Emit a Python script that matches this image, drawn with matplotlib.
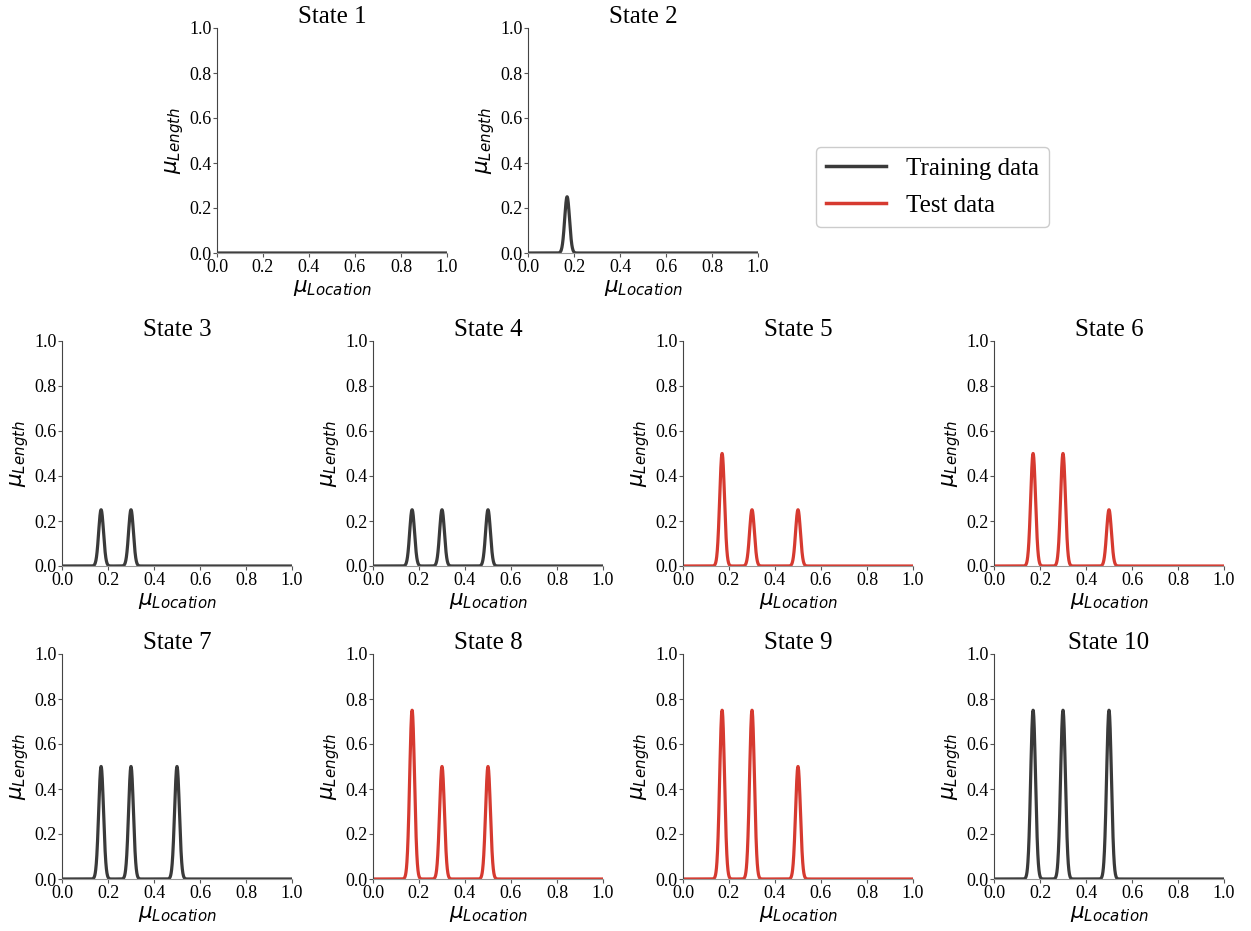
import matplotlib
matplotlib.use("Agg")
import matplotlib.pyplot as plt
import numpy as np

plt.rcParams['font.family'] = ['Liberation Serif', 'DejaVu Serif']
plt.rcParams['mathtext.fontset'] = 'dejavusans'

# peak positions on the location axis
centres = [0.17, 0.3, 0.5]

# peak heights per state (one value per centre), and which data set it is
states = ["State 1", "State 2", "State 3", "State 4", "State 5",
          "State 6", "State 7", "State 8", "State 9", "State 10"]
heights = [
    [0.0, 0.0, 0.0],
    [0.25, 0.0, 0.0],
    [0.25, 0.25, 0.0],
    [0.25, 0.25, 0.25],
    [0.5, 0.25, 0.25],
    [0.5, 0.5, 0.25],
    [0.5, 0.5, 0.5],
    [0.75, 0.5, 0.5],
    [0.75, 0.75, 0.5],
    [0.75, 0.75, 0.75],
]
is_test = [False, False, False, False, True, True, False, True, True, False]

train_col = '#3a3a3a'
test_col = '#d63a30'
width = 0.0105

x = np.linspace(0, 1, 2001)

fig = plt.figure(figsize=(12.51, 9.31), dpi=100)
W, H = 1251.0, 931.0

# axes boxes in pixels: (left, top)
boxes = [(217, 28), (528, 28)]
for row_top in (341, 654):
    for left in (62, 373, 683, 994):
        boxes.append((left, row_top))

for i, (left, top) in enumerate(boxes):
    ax = fig.add_axes([left / W, 1 - (top + 225) / H, 230 / W, 225 / H])
    y = np.zeros_like(x)
    for c, h in zip(centres, heights[i]):
        y = np.maximum(y, h * np.exp(-0.5 * ((x - c) / width) ** 2))
    col = test_col if is_test[i] else train_col
    ax.plot(x, y, color=col, lw=2.3)
    ax.set_xlim(0, 1)
    ax.set_ylim(0, 1)
    ax.set_xticks(np.arange(0, 1.01, 0.2))
    ax.set_yticks(np.arange(0, 1.01, 0.2))
    ax.tick_params(labelsize=13, length=3, color='#555555', pad=1)
    ax.set_title(states[i], fontsize=18, pad=2)
    ax.set_xlabel(r'$\mu_{Location}$', fontsize=15.5, labelpad=2)
    ax.set_ylabel(r'$\mu_{Length}$', fontsize=15.5, labelpad=2)
    for s in ('top', 'right'):
        ax.spines[s].set_visible(False)
    ax.spines['left'].set_color('#444444')
    ax.spines['bottom'].set_color('#999999')

handles = [plt.Line2D([], [], color=train_col, lw=2.5),
           plt.Line2D([], [], color=test_col, lw=2.5)]
fig.legend(handles, ['Training data', 'Test data'], fontsize=18,
           loc='center', bbox_to_anchor=(932 / W, 1 - 187 / H),
           handlelength=2.4, labelspacing=0.6, framealpha=1,
           edgecolor='#cccccc')

fig.savefig('out.png', dpi=100)
